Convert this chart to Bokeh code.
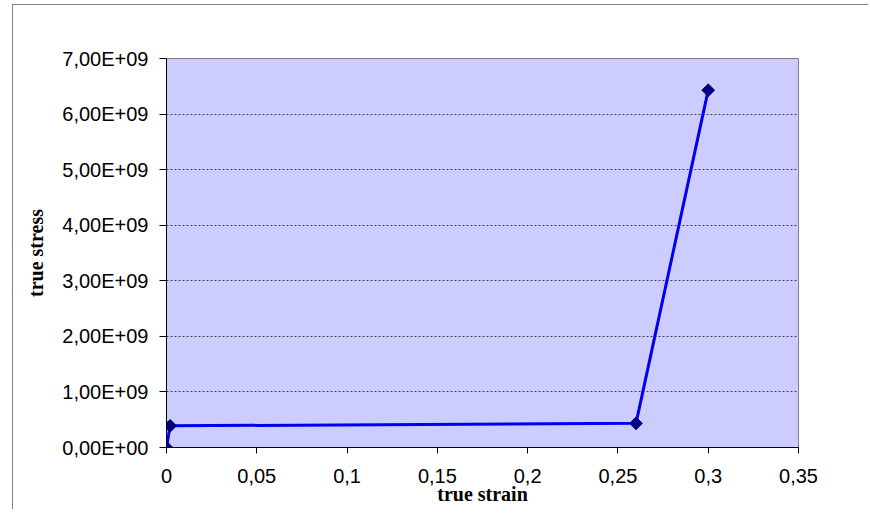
import math
from bokeh.plotting import figure
from bokeh.models import Range1d, FixedTicker, CustomJSTickFormatter
from bokeh.embed import file_html
from bokeh.resources import INLINE

# data
true_strain = [0.0, 0.002, 0.26, 0.30]
true_stress = [0.0, 3.9e8, 4.35e8, 6.43e9]

x_ticks = [0, 0.05, 0.1, 0.15, 0.2, 0.25, 0.3, 0.35]
y_ticks = [0, 1e9, 2e9, 3e9, 4e9, 5e9, 6e9, 7e9]

p = figure(width=856, height=505, output_backend="svg", toolbar_location=None,
           x_range=Range1d(0, 0.35), y_range=Range1d(0, 7e9),
           min_border_left=153, min_border_top=53, min_border_right=71,
           min_border_bottom=63, margin=(4, 0, 0, 12))
p.styles = {"border-top": "1px solid #808080", "border-left": "1px solid #808080"}

p.background_fill_color = "#CCCCFF"
p.border_fill_color = "white"
p.outline_line_color = "#808080"
p.outline_line_width = 1

p.xgrid.visible = False
p.ygrid.ticker = FixedTicker(ticks=y_ticks)
p.ygrid.grid_line_color = "#404050"
p.ygrid.grid_line_dash = "2 2"
p.ygrid.grid_line_width = 1

p.xaxis.ticker = FixedTicker(ticks=x_ticks)
p.yaxis.ticker = FixedTicker(ticks=y_ticks)
p.xaxis.formatter = CustomJSTickFormatter(code="""
  return String(Math.round(tick*100)/100).replace('.', ',');
""")
p.yaxis.formatter = CustomJSTickFormatter(code="""
  if (tick == 0) return '0,00E+00';
  const e = Math.floor(Math.log10(Math.abs(tick)) + 1e-9);
  const m = tick / Math.pow(10, e);
  const es = (e < 10 ? '0' : '') + e;
  return m.toFixed(2).replace('.', ',') + 'E+' + es;
""")

for ax in (p.xaxis[0], p.yaxis[0]):
    ax.axis_line_color = "black"
    ax.axis_line_width = 1
    ax.major_tick_line_color = "black"
    ax.major_tick_in = 0
    ax.minor_tick_line_color = None
    ax.major_label_text_font = "Liberation Sans"
    ax.major_label_text_font_size = "20px"
    ax.major_label_text_color = "black"
    ax.axis_label_text_font = "Liberation Serif"
    ax.axis_label_text_font_style = "bold"
    ax.axis_label_text_font_size = "20px"
    ax.axis_label_text_color = "black"

p.xaxis.major_tick_out = 6
p.yaxis.major_tick_out = 7
p.xaxis.axis_label = "true strain"
p.yaxis.axis_label = "true stress"
p.xaxis.major_label_standoff = 15
p.xaxis.axis_label_standoff = -3
p.yaxis.major_label_standoff = 11
p.yaxis.axis_label_standoff = 12

p.line(true_strain, true_stress, line_color="#0000F0", line_width=3)
p.scatter(true_strain, true_stress, marker="square", angle=math.pi / 4,
          size=9, fill_color="#000080", line_color="#000080")

open("out.html", "w").write(file_html(p, INLINE))
